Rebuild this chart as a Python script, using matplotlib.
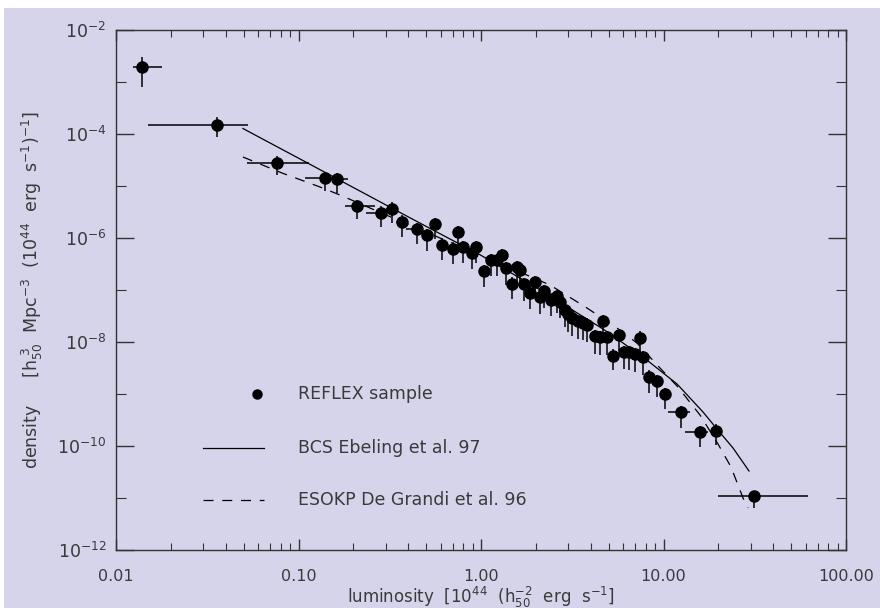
import matplotlib
matplotlib.use("Agg")
import matplotlib.pyplot as plt
import numpy as np
from matplotlib.patches import Rectangle
from matplotlib.ticker import FixedLocator, FixedFormatter, NullFormatter

# ---------------- data ----------------
lum = [0.01393, 0.0358, 0.0762, 0.1397, 0.1632, 0.209, 0.283, 0.325, 0.368, 0.444,
       0.506, 0.558, 0.609, 0.700, 0.751, 0.800, 0.889, 0.939, 1.042, 1.130,
       1.219, 1.298, 1.366, 1.473, 1.575, 1.636, 1.724, 1.855, 1.976, 2.105,
       2.220, 2.425, 2.616, 2.710, 2.886, 3.009, 3.172, 3.380, 3.600, 3.809,
       4.19, 4.47, 4.68, 4.88, 5.31, 5.72, 6.07, 6.49, 6.94, 7.41,
       7.75, 8.36, 9.18, 10.19, 12.47, 15.85, 19.4, 31.5]
dens = [1.97e-3, 1.49e-4, 2.77e-5, 1.44e-5, 1.35e-5, 4.07e-6, 3.07e-6, 3.66e-6, 2.06e-6, 1.49e-6,
        1.14e-6, 1.86e-6, 7.43e-7, 6.22e-7, 1.30e-6, 6.62e-7, 5.08e-7, 6.71e-7, 2.32e-7, 3.78e-7,
        3.78e-7, 4.71e-7, 2.61e-7, 1.33e-7, 2.77e-7, 2.42e-7, 1.30e-7, 8.87e-8, 1.41e-7, 7.33e-8,
        9.48e-8, 6.53e-8, 7.57e-8, 5.96e-8, 4.12e-8, 3.45e-8, 2.90e-8, 2.54e-8, 2.35e-8, 2.17e-8,
        1.28e-8, 1.25e-8, 2.54e-8, 1.25e-8, 5.50e-9, 1.36e-8, 6.43e-9, 6.29e-9, 5.80e-9, 1.22e-8,
        5.15e-9, 2.15e-9, 1.76e-9, 1.01e-9, 4.47e-10, 1.88e-10, 1.97e-10, 1.09e-11]
# error bars in dex (log10 units)
dens_err_up = [0.18, 0.15, 0.13, 0.12, 0.12, 0.12, 0.12, 0.12, 0.12, 0.12,
               0.12, 0.12, 0.12, 0.12, 0.12, 0.12, 0.12, 0.12, 0.12, 0.12,
               0.12, 0.12, 0.12, 0.12, 0.12, 0.12, 0.12, 0.12, 0.12, 0.12,
               0.12, 0.12, 0.12, 0.12, 0.12, 0.12, 0.12, 0.12, 0.12, 0.12,
               0.12, 0.12, 0.12, 0.12, 0.12, 0.12, 0.12, 0.12, 0.12, 0.12,
               0.12, 0.12, 0.12, 0.12, 0.12, 0.12, 0.12, 0.10]
dens_err_dn = [0.39, 0.23, 0.23, 0.25, 0.26, 0.25, 0.27, 0.27, 0.30, 0.28,
               0.30, 0.28, 0.30, 0.30, 0.28, 0.30, 0.30, 0.30, 0.30, 0.30,
               0.30, 0.30, 0.32, 0.30, 0.32, 0.32, 0.32, 0.32, 0.30, 0.32,
               0.32, 0.32, 0.32, 0.32, 0.32, 0.34, 0.34, 0.34, 0.34, 0.34,
               0.34, 0.34, 0.30, 0.34, 0.28, 0.30, 0.32, 0.34, 0.34, 0.32,
               0.34, 0.32, 0.30, 0.30, 0.30, 0.30, 0.28, 0.23]
lum_err_lo = [0.05, 0.378, 0.166, 0.11, 0.05, 0.066, 0.082, 0.03, 0.03, 0.058,
              0, 0, 0, 0, 0, 0, 0, 0, 0, 0,
              0, 0, 0, 0, 0, 0, 0, 0, 0, 0,
              0, 0, 0, 0, 0, 0, 0, 0, 0, 0,
              0, 0, 0, 0, 0, 0, 0, 0, 0, 0,
              0, 0.03, 0.03, 0.03, 0.071, 0.082, 0.03, 0.20]
lum_err_hi = [0.108, 0.17, 0.176, 0.06, 0.058, 0.099, 0.03, 0.03, 0.03, 0.03,
              0, 0, 0, 0, 0, 0, 0, 0, 0, 0,
              0, 0, 0, 0, 0, 0, 0, 0, 0, 0,
              0, 0, 0, 0, 0, 0, 0, 0, 0, 0,
              0, 0, 0, 0, 0, 0, 0, 0, 0, 0,
              0, 0.03, 0.03, 0.03, 0.049, 0.044, 0.03, 0.293]

# BCS (Ebeling et al. 97) curve
bcs_lum = [0.0496, 0.1156, 0.3599, 0.6761, 0.9508, 2.027, 4.661, 7.722, 11.86, 16.46, 19.64, 24.04, 29.41]
bcs_dens = [1.276e-4, 2.614e-5, 3.093e-6, 9.567e-7, 5.146e-7, 1.093e-7, 1.778e-8, 5.146e-9,
            1.557e-9, 4.506e-10, 2.122e-10, 9.15e-11, 3.306e-11]
# ESOKP (De Grandi et al. 96) curve
eso_lum = [0.0496, 0.0812, 0.1312, 0.1688, 0.3599, 0.9874, 2.388, 3.809, 5.562, 7.157,
           9.568, 11.86, 15.85, 19.89, 23.44, 27.27, 29.04]
eso_dens = [3.611e-5, 1.778e-5, 9.567e-6, 6.711e-6, 2.122e-6, 4.711e-7, 1.248e-7, 4.506e-8,
            1.859e-8, 9.567e-9, 3.162e-9, 1.425e-9, 3.948e-10, 1.093e-10, 3.948e-11, 1.0e-11, 6.42e-12]

xticks = [0.01, 0.1, 1, 10, 100]
xticklabels = ["0.01", "0.10", "1.00", "10.00", "100.00"]
yticks = [1e-12, 1e-10, 1e-8, 1e-6, 1e-4, 1e-2]
yticklabels = [r"$10^{-12}$", r"$10^{-10}$", r"$10^{-8}$", r"$10^{-6}$", r"$10^{-4}$", r"$10^{-2}$"]
legend_labels = ["REFLEX sample", "BCS Ebeling et al. 97", "ESOKP De Grandi et al. 96"]

# ---------------- style ----------------
BG = "#d5d4ea"
TXT = "#3a3a3a"
plt.rcParams["font.family"] = ["DejaVu Sans"]
plt.rcParams["mathtext.fontset"] = "dejavusans"

fig = plt.figure(figsize=(8.8, 6.08), dpi=100, facecolor="white")
fig.patches.append(Rectangle((4 / 880, 0), 1, 1 - 8 / 608, transform=fig.transFigure,
                             facecolor=BG, edgecolor="none", zorder=-10))
ax = fig.add_axes([116 / 880, 1 - 550 / 608, 730 / 880, 520 / 608])
ax.set_facecolor(BG)
ax.set_xscale("log")
ax.set_yscale("log")
ax.set_xlim(0.01, 100)
ax.set_ylim(1e-12, 1e-2)

x = np.array(lum)
y = np.array(dens)
yerr = np.vstack([y * (1 - 10 ** (-np.array(dens_err_dn))), y * (10 ** np.array(dens_err_up) - 1)])
xerr = np.vstack([x * (1 - 10 ** (-np.array(lum_err_lo))), x * (10 ** np.array(lum_err_hi) - 1)])

ax.plot(bcs_lum, bcs_dens, color="black", lw=0.9, zorder=2)
ax.plot(eso_lum, eso_dens, color="black", lw=0.9, ls=(0, (8, 7)), zorder=2)
ax.errorbar(x, y, xerr=xerr, yerr=yerr, fmt="o", ms=8, color="black", mfc="black",
            mec="black", ecolor="black", elinewidth=1.1, capsize=0, zorder=3)

# ticks
ax.xaxis.set_major_locator(FixedLocator(xticks))
ax.xaxis.set_major_formatter(FixedFormatter(xticklabels))
xminor = [m * 10.0 ** d for d in range(-2, 2) for m in range(2, 10)]
ax.xaxis.set_minor_locator(FixedLocator(xminor))
ax.xaxis.set_minor_formatter(NullFormatter())
ax.yaxis.set_major_locator(FixedLocator(yticks))
ax.yaxis.set_major_formatter(FixedFormatter(yticklabels))
ax.yaxis.set_minor_locator(FixedLocator([1e-11, 1e-9, 1e-7, 1e-5, 1e-3]))
ax.yaxis.set_minor_formatter(NullFormatter())

ax.tick_params(axis="both", which="both", direction="in", top=True, right=True,
               color="#333333", labelcolor=TXT)
ax.tick_params(axis="x", which="major", length=8, width=1, labelsize=11.5, pad=14)
ax.tick_params(axis="x", which="minor", length=5, width=0.8)
ax.tick_params(axis="y", which="major", length=13, width=1, labelsize=12.5, pad=7)
ax.tick_params(axis="y", which="minor", length=7, width=0.8)
for s in ax.spines.values():
    s.set_color("#333333")
    s.set_linewidth(1.0)

ax.set_xlabel(r"luminosity  [10$^{44}$  (h$_{50}^{-2}$  erg  s$^{-1}$]",
              fontsize=12, color=TXT, labelpad=0)
ax.set_ylabel(r"density     [h$_{50}^{\ 3}$  Mpc$^{-3}$  (10$^{44}$  erg  s$^{-1}$)$^{-1}$]",
              fontsize=12.5, color=TXT, labelpad=9)

# legend (drawn by hand to match the original layout)
def ax_xy(px, py):
    return (px - 116) / 730, (550 - py) / 520

mx, my = ax_xy(257, 394)
ax.plot([mx], [my], "o", ms=6.5, color="black", transform=ax.transAxes, clip_on=False)
l1x, l1y = ax_xy(203, 448)
l2x, _ = ax_xy(264, 448)
ax.plot([l1x, l2x], [l1y, l1y], color="black", lw=0.9, transform=ax.transAxes)
_, d1y = ax_xy(203, 500)
ax.plot([l1x, l2x], [d1y, d1y], color="black", lw=0.9, ls=(0, (8, 7)), transform=ax.transAxes)
tx, _ = ax_xy(298, 0)
for lab, ty in zip(legend_labels, [my, l1y, d1y]):
    ax.text(tx, ty, lab, transform=ax.transAxes, fontsize=12.5, color=TXT, va="center", ha="left")

fig.savefig("out.png", dpi=100, facecolor=fig.get_facecolor())
